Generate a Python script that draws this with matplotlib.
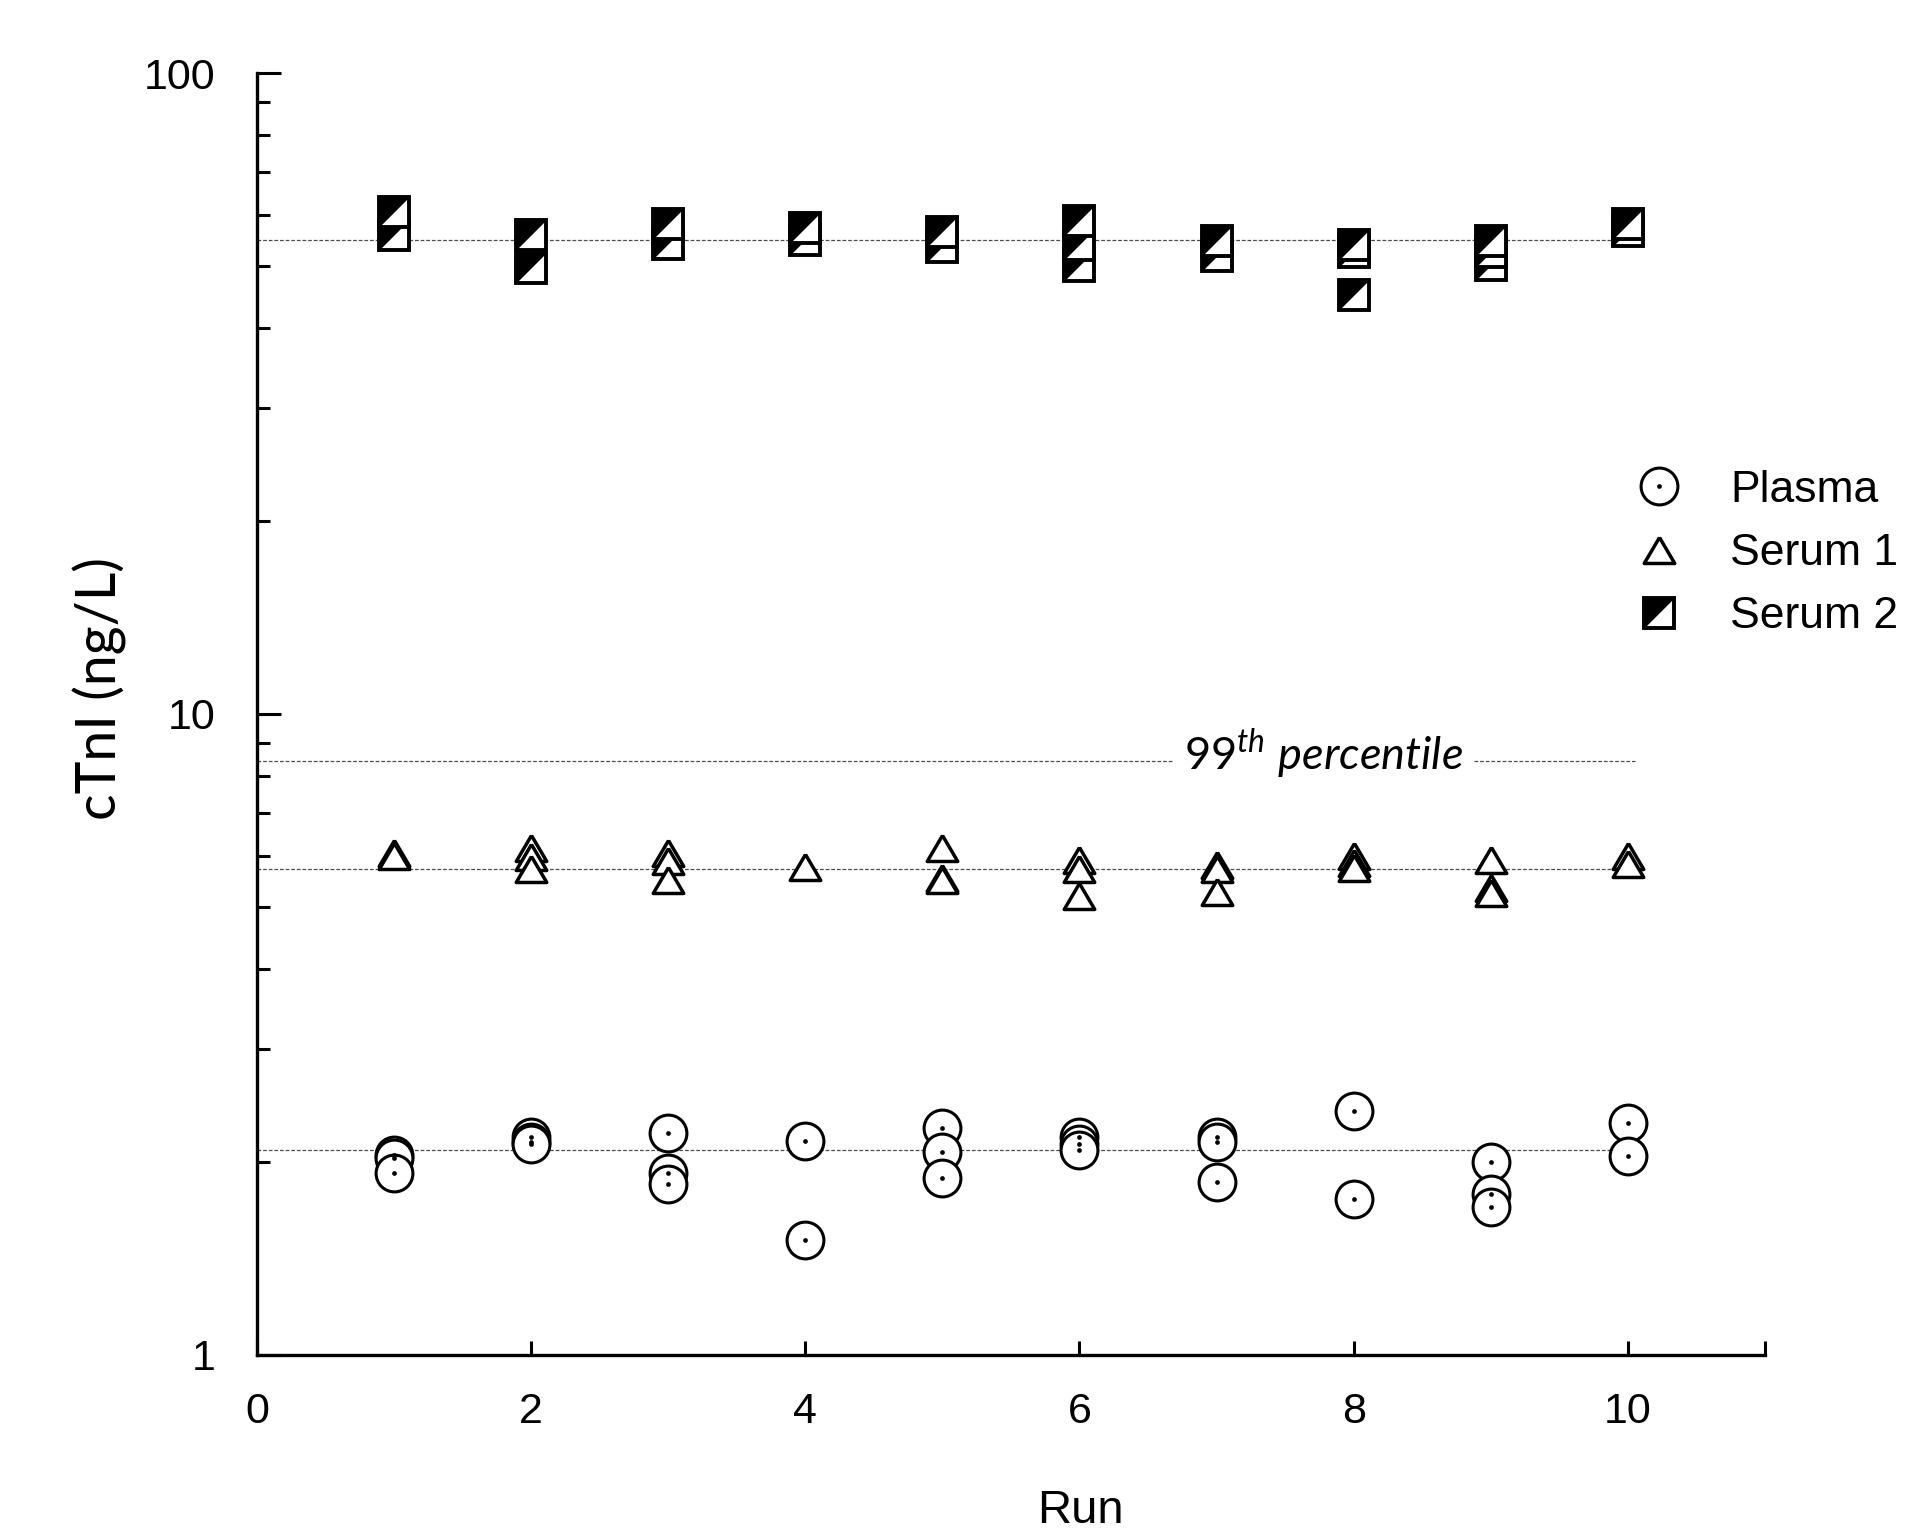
import matplotlib
matplotlib.use("Agg")
import matplotlib.pyplot as plt
from matplotlib.lines import Line2D
from matplotlib.legend_handler import HandlerTuple
from matplotlib.ticker import LogLocator, NullFormatter

plt.rcParams["mathtext.fontset"] = "custom"
plt.rcParams["mathtext.it"] = "Lato:italic"
plt.rcParams["mathtext.rm"] = "Lato"

# cTnI replicates per run (ng/L)
plasma_run = [1, 1, 1, 2, 2, 2, 3, 3, 3, 4, 4, 5, 5, 5, 6, 6, 6, 7, 7, 7, 8, 8, 9, 9, 9, 10, 10]
plasma_val = [2.05, 2.03, 1.92, 2.19, 2.15, 2.13, 2.22, 1.92, 1.85, 2.16, 1.51,
              2.26, 2.07, 1.89, 2.19, 2.13, 2.09, 2.19, 2.15, 1.86, 2.40, 1.75,
              2.00, 1.78, 1.70, 2.30, 2.04]

serum1_run = [1, 1, 2, 2, 2, 3, 3, 3, 4, 5, 5, 5, 6, 6, 6, 7, 7, 7, 8, 8, 8, 9, 9, 9, 10, 10]
serum1_val = [6.07, 6.00, 6.18, 5.98, 5.73, 6.07, 5.90, 5.50, 5.77, 6.18, 5.55, 5.50,
              5.92, 5.72, 5.20, 5.82, 5.72, 5.28, 6.00, 5.85, 5.75, 5.92, 5.35, 5.26,
              6.00, 5.84]

serum2_run = [1, 1, 2, 2, 3, 3, 4, 4, 5, 5, 6, 6, 6, 7, 7, 8, 8, 8, 9, 9, 9, 10, 10]
serum2_val = [60.7, 55.9, 55.9, 49.7, 58.2, 54.1, 57.4, 54.9, 56.5, 53.5, 58.8, 53.9, 50.0,
              54.7, 51.9, 53.9, 52.6, 45.1, 54.7, 52.5, 50.2, 58.2, 56.7]

# mean lines and 99th percentile
mean_vals = [2.09, 5.73, 54.8]
p99 = 8.45

labels = ["Plasma", "Serum 1", "Serum 2"]

fig = plt.figure(figsize=(19.10, 15.31), dpi=100)
ax = fig.add_axes([0.1346, 0.115, 0.7894, 0.8373])

dash = dict(color="0.3", lw=0.9, ls=(0, (3, 1.5)), zorder=1)
for m in mean_vals:
    ax.plot([0, 10.08], [m, m], **dash)
ax.plot([0, 6.68], [p99, p99], **dash)
ax.plot([8.88, 10.05], [p99, p99], **dash)

ax.text(7.78, 8.2, r"$\mathit{99^{th}\ percentile}$", fontsize=32.5,
        ha="center", va="baseline")

# markers
circ = dict(marker="o", ls="none", mfc="white", mec="black", ms=26.5, mew=2.2)
dot = dict(marker="o", ls="none", mfc="black", mec="black", ms=3.4, mew=0)
tri_verts = [(0, 0.85), (-1, -0.85), (1, -0.85), (0, 0.85)]
tri = dict(marker=tri_verts, ls="none", mfc="white", mec="black", ms=22, mew=2.5)
sq = dict(marker="s", ls="none", mfc="white", mec="black", ms=21, mew=2.8)
ul_verts = [(-1, -1), (-1, 1), (1, 1), (-1, -1)]
half = dict(marker=ul_verts, ls="none", mfc="black", mec="black", ms=21, mew=0)

ax.plot(plasma_run, plasma_val, zorder=3, **circ)
ax.plot(plasma_run, plasma_val, zorder=4, **dot)
ax.plot(serum1_run, serum1_val, zorder=3, **tri)

pts = sorted(zip(serum2_run, serum2_val), key=lambda p: p[1])
z = 3
for r, v in pts:
    ax.plot([r], [v], zorder=z, **sq)
    ax.plot([r], [v], zorder=z + 0.5, **half)
    z += 1

ax.set_yscale("log")
ax.set_ylim(1, 100)
ax.set_xlim(0, 11)
ax.set_yticks([1, 10, 100])
ax.set_yticklabels(["1", "10", "100"])
ax.yaxis.set_minor_locator(LogLocator(base=10, subs=range(2, 10)))
ax.yaxis.set_minor_formatter(NullFormatter())
ax.set_xticks([0, 2, 4, 6, 8, 10, 11])
ax.set_xticklabels(["0", "2", "4", "6", "8", "10", ""])

for s in ["top", "right"]:
    ax.spines[s].set_visible(False)
for s in ["left", "bottom"]:
    ax.spines[s].set_linewidth(2.4)

tick_font = "Liberation Sans"
ax.tick_params(axis="y", which="major", direction="in", length=17, width=2.2,
               labelsize=31, pad=30)
ax.tick_params(axis="y", which="minor", direction="in", length=9, width=2.2)
ax.tick_params(axis="x", which="major", direction="in", length=10, width=2.2,
               labelsize=31, pad=27)
for lab in ax.get_xticklabels() + ax.get_yticklabels():
    lab.set_fontfamily(tick_font)

ax.set_xlabel("Run", fontsize=34, family="Liberation Sans")
ax.xaxis.set_label_coords(0.546, -0.122)
ax.xaxis.label.set_va("center")
ax.set_ylabel("cTnI (ng/L)", fontsize=40, family="Lato")
ax.yaxis.set_label_coords(-0.104, 0.52)
ax.yaxis.label.set_va("center")

h1 = (Line2D([], [], **circ), Line2D([], [], **dot))
h2 = Line2D([], [], **tri)
h3 = (Line2D([], [], **sq), Line2D([], [], **half))
fig.legend([h1, h2, h3], labels, handler_map={tuple: HandlerTuple(ndivide=1)},
           loc="upper left", bbox_to_anchor=(0.857, 0.693), frameon=False,
           prop={"family": "Liberation Sans", "size": 32}, handlelength=1.0,
           handletextpad=1.1, labelspacing=0.5, borderpad=0, borderaxespad=0)

fig.savefig("out.png", dpi=100)
